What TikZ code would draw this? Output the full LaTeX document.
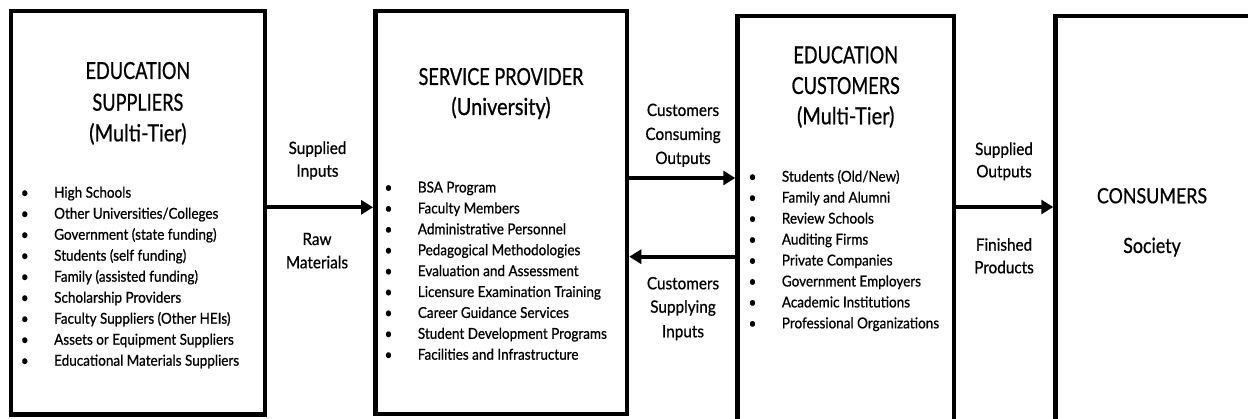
\documentclass[tikz,border=0pt]{standalone}
\usepackage{fontspec}
\setmainfont{Lato}[FakeStretch=0.9, FakeBold=0.7]
\newfontfamily\headfont{Lato}[FakeStretch=0.85, FakeBold=0.7]
\newfontfamily\capsfont{Lato}[FakeStretch=0.77, FakeBold=0.7]
\usetikzlibrary{arrows.meta}
\newcommand\bulleted[1]{\llap{\textbullet\hspace{25.5pt}}#1}

\begin{document}
\begin{tikzpicture}[x=1pt,y=-1pt,
  block/.style={draw=black, line width=4.5pt, rectangle, inner sep=0pt, fill=white},
  heading/.style={anchor=base, inner sep=0pt, font=\headfont\fontsize{23.5}{28}\selectfont},
  capsheading/.style={anchor=base, inner sep=0pt, font=\capsfont\fontsize{23.5}{28}\selectfont},
  bigheading/.style={anchor=base, inner sep=0pt, font=\headfont\fontsize{21}{25}\selectfont},
  listline/.style={anchor=base west, inner sep=0pt, font=\fontsize{15}{18}\selectfont},
  flowlabel/.style={anchor=base, inner sep=0pt, font=\fontsize{17}{20}\selectfont},
  flow/.style={line width=4pt, -{Triangle[length=12pt,width=14pt]}}]
\useasboundingbox (0,0) rectangle (1248,419);
\clip (0,0) rectangle (1248,419);

% the four stages of the chain
\node[block, minimum width=254.2pt, minimum height=403.9pt] (sup)  at (137.9,212.75) {};
\node[block, minimum width=251.7pt, minimum height=403.2pt] (prov) at (501.15,212.4) {};
\node[block, minimum width=216.5pt, minimum height=424.2pt] (cust) at (845.75,227.9) {};
\node[block, minimum width=194.5pt, minimum height=424.2pt] (cons) at (1152.75,227.9) {};

% headings
\node[capsheading] (sup-h1) at (137.9,79)   {EDUCATION};
\node[capsheading] (sup-h2) at (137.9,110.7) {SUPPLIERS};
\node[heading] (sup-h3) at (137.9,141.3) {(Multi-Tier)};

\node[capsheading] (prov-h1) at (501,85)  {SERVICE PROVIDER};
\node[heading] (prov-h2) at (501,115) {(University)};

\node[capsheading] (cust-h1) at (845.7,63.3) {EDUCATION};
\node[capsheading] (cust-h2) at (845.7,94)   {CUSTOMERS};
\node[heading] (cust-h3) at (845.7,124.3) {(Multi-Tier)};

\node[bigheading] (cons-h1) at (1152,203.3) {CONSUMERS};
\node[bigheading] (cons-h2) at (1152,253)   {Society};

% bulleted lists
\foreach \t [count=\i] in {High Schools, Other Universities/Colleges,
    Government (state funding), Students (self funding),
    Family (assisted funding), Scholarship Providers,
    Faculty Suppliers (Other HEIs), Assets or Equipment Suppliers,
    Educational Materials Suppliers}
  \node[listline] (sup-i\i) at (54,{197.7+21*(\i-1)}) {\bulleted{\t}};

\foreach \t [count=\i] in {BSA Program, Faculty Members,
    Administrative Personnel, Pedagogical Methodologies,
    Evaluation and Assessment, Licensure Examination Training,
    Career Guidance Services, Student Development Programs,
    Facilities and Infrastructure}
  \node[listline] (prov-i\i) at (417.7,{192.5+20.9*(\i-1)}) {\bulleted{\t}};

\foreach \t [count=\i] in {Students (Old/New), Family and Alumni,
    Review Schools, Auditing Firms, Private Companies,
    Government Employers, Academic Institutions,
    Professional Organizations}
  \node[listline] (cust-i\i) at (781.7,{181.7+20.95*(\i-1)}) {\bulleted{\t}};

% flow levels
\coordinate (lvl-a) at (0,207.3);
\coordinate (lvl-b) at (0,178);
\coordinate (lvl-c) at (0,256.7);
\coordinate (lvl-d) at (0,207);

% connectors
\draw[flow] (sup.east |- lvl-a) -- (prov.west |- lvl-a);
\draw[flow] (prov.east |- lvl-b) -- (cust.west |- lvl-b);
\draw[flow] (cust.west |- lvl-c) -- (prov.east |- lvl-c);
\draw[flow] (cust.east |- lvl-d) -- (cons.west |- lvl-d);

% connector labels
\node[flowlabel] (l1a) at (317.5,154)   {Supplied};
\node[flowlabel] (l1b) at (317.5,176.7) {Inputs};
\node[flowlabel] (l1c) at (317,245)     {Raw};
\node[flowlabel] (l1d) at (317,268.3)   {Materials};

\node[flowlabel] (l2a) at (683,116) {Customers};
\node[flowlabel] (l2b) at (683,140) {Consuming};
\node[flowlabel] (l2c) at (683,164) {Outputs};

\node[flowlabel] (l3a) at (683,289.3) {Customers};
\node[flowlabel] (l3b) at (683,312.7) {Supplying};
\node[flowlabel] (l3c) at (683,337.3) {Inputs};

\node[flowlabel] (l4a) at (1004,155)   {Supplied};
\node[flowlabel] (l4b) at (1004,177.3) {Outputs};
\node[flowlabel] (l4c) at (1004,250.7) {Finished};
\node[flowlabel] (l4d) at (1004,273.3) {Products};
\end{tikzpicture}
\end{document}
